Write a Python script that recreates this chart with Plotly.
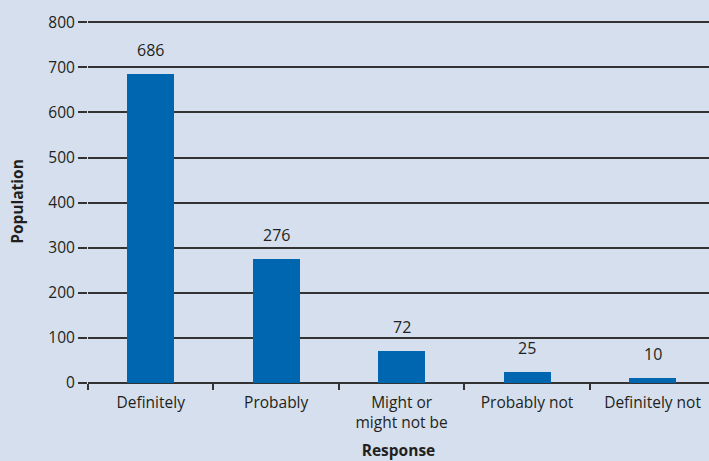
import plotly.graph_objects as go

categories = ["Definitely", "Probably", "Might or<br>might not be", "Probably not", "Definitely not"]
population = [686, 276, 72, 25, 10]
y_ticks = [0, 100, 200, 300, 400, 500, 600, 700, 800]

BG = "#d5dfee"
BAR = "#0066b0"
TXT = "#231f20"
FONT = "Open Sans"

fig = go.Figure()
fig.add_trace(go.Bar(x=categories, y=population, marker=dict(color=BAR, line=dict(width=0)),
                     width=0.375, hoverinfo="skip"))

for c, v in zip(categories, population):
    fig.add_annotation(x=c, y=v, text=str(v), showarrow=False, yanchor="bottom", yshift=11,
                       font=dict(family=FONT, size=16, color=TXT))

fig.update_layout(
    width=709, height=461,
    margin=dict(l=88, r=0, t=20, b=78),
    paper_bgcolor=BG, plot_bgcolor=BG,
    showlegend=False,
    font=dict(family=FONT, size=15, color=TXT),
    bargap=0,
)
fig.update_xaxes(
    type="category", range=[-0.5, 4.45],
    tickson="boundaries", ticks="outside", ticklen=6, tickwidth=1.5, tickcolor="#333333",
    showline=False, showgrid=False, zeroline=False,
    ticklabelstandoff=8,
    tickfont=dict(family=FONT, size=15.5, color=TXT),
    title=dict(text="<b>Response</b>", font=dict(family=FONT, size=15.5, color=TXT), standoff=14),
)
fig.update_yaxes(
    range=[0, 805], tickvals=y_ticks, ticks="outside", ticklen=9, tickwidth=1.5, tickcolor="#333333",
    showgrid=True, gridcolor="#333333", gridwidth=1.5, zeroline=True, zerolinecolor="#333333", zerolinewidth=1.5,
    showline=False,
    tickfont=dict(family=FONT, size=15.5, color=TXT),
    title=dict(text="<b>Population</b>", font=dict(family=FONT, size=15.5, color=TXT), standoff=20),
)

fig.write_html("out.html")
